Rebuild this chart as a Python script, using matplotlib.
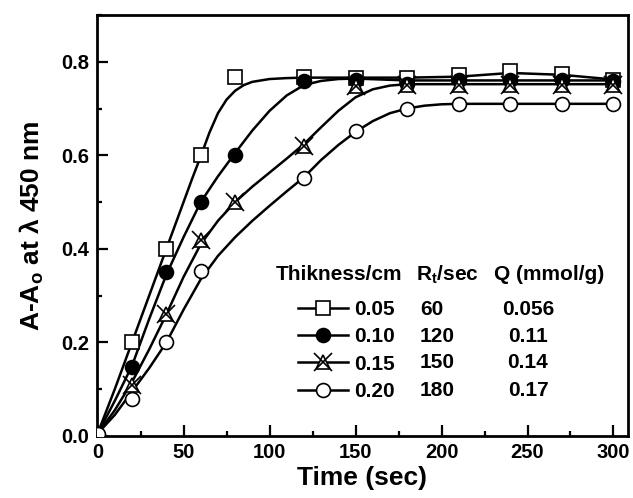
import matplotlib
matplotlib.use('Agg')
import matplotlib.pyplot as plt
from matplotlib.lines import Line2D
from matplotlib.legend_handler import HandlerTuple
from matplotlib.ticker import MultipleLocator, FormatStrFormatter

plt.rcParams['font.family'] = ['Liberation Sans', 'DejaVu Sans']
plt.rcParams['font.weight'] = 'bold'

# measured points (time in sec, absorbance change)
t_sq = [20, 40, 60, 80, 120, 150, 180, 210, 240, 270, 300]
a_sq = [0.20, 0.40, 0.60, 0.767, 0.768, 0.766, 0.766, 0.772, 0.781, 0.773, 0.761]
t_fc = [20, 40, 60, 80, 120, 150, 180, 210, 240, 270, 300]
a_fc = [0.148, 0.35, 0.50, 0.601, 0.758, 0.761, 0.752, 0.760, 0.760, 0.760, 0.759]
t_st = [20, 40, 60, 80, 120, 150, 180, 210, 240, 270, 300]
a_st = [0.11, 0.26, 0.42, 0.50, 0.620, 0.748, 0.750, 0.750, 0.750, 0.750, 0.750]
t_oc = [0, 20, 40, 60, 120, 150, 180, 210, 240, 270, 300]
a_oc = [0.005, 0.08, 0.20, 0.352, 0.552, 0.651, 0.700, 0.710, 0.710, 0.710, 0.710]

# fitted curves
sq_ct = [0, 10, 20, 30, 40, 50, 55, 60, 65, 70, 75, 80, 85, 90, 100, 110, 120, 150, 180, 210,
         240, 270, 300]
sq_ca = [0.005, 0.10, 0.20, 0.30, 0.40, 0.50, 0.55, 0.598, 0.648, 0.69, 0.719, 0.738, 0.75,
         0.757, 0.763, 0.765, 0.766, 0.766, 0.766, 0.768, 0.776, 0.772, 0.762]
fc_ct = [0, 10, 20, 30, 40, 50, 60, 70, 80, 90, 100, 110, 120, 130, 140, 150, 180, 210, 240, 270, 300]
fc_ca = [0.005, 0.075, 0.15, 0.25, 0.345, 0.425, 0.50, 0.555, 0.605, 0.653, 0.695, 0.728, 0.75,
         0.759, 0.763, 0.764, 0.760, 0.760, 0.760, 0.760, 0.760]
st_ct = [0, 10, 20, 30, 40, 50, 60, 70, 80, 90, 100, 110, 120, 130, 140, 150, 160, 170, 180,
         210, 240, 270, 300]
st_ca = [0.005, 0.055, 0.115, 0.185, 0.26, 0.34, 0.41, 0.46, 0.50, 0.533, 0.563, 0.593, 0.624,
         0.66, 0.695, 0.724, 0.741, 0.749, 0.752, 0.752, 0.752, 0.752, 0.752]
oc_ct = [0, 10, 20, 30, 40, 50, 60, 70, 80, 90, 100, 110, 120, 130, 140, 150, 160, 170, 180,
         190, 200, 210, 240, 270, 300]
oc_ca = [0.005, 0.045, 0.095, 0.145, 0.20, 0.27, 0.335, 0.385, 0.425, 0.46, 0.492, 0.523, 0.553,
         0.59, 0.622, 0.65, 0.673, 0.69, 0.70, 0.706, 0.709, 0.71, 0.71, 0.71, 0.71]

thickness = ['0.05', '0.10', '0.15', '0.20']
rt_sec = ['60', '120', '150', '180']
q_mmol = ['0.056', '0.11', '0.14', '0.17']

fig = plt.figure(figsize=(6.33, 4.98), dpi=100)
ax = fig.add_axes([0.1525, 0.1245, 0.8395, 0.8455])

lw = 1.8
ms = 9.5
mew = 1.2
for ct, ca in [(sq_ct, sq_ca), (fc_ct, fc_ca), (st_ct, st_ca), (oc_ct, oc_ca)]:
    ax.plot(ct, ca, color='black', lw=lw, zorder=2, solid_joinstyle='round')

ax.plot(t_sq, a_sq, ls='none', marker='s', ms=ms, mfc='white', mec='black', mew=mew, zorder=3)
ax.plot(t_fc, a_fc, ls='none', marker='o', ms=ms + 0.5, mfc='black', mec='black', mew=mew, zorder=3)
ax.plot(t_st, a_st, ls='none', marker='^', ms=ms, mfc='white', mec='black', mew=mew, zorder=3)
ax.plot(t_st, a_st, ls='none', marker='x', ms=ms + 3, mec='black', mew=mew, zorder=4)
ax.plot(t_oc, a_oc, ls='none', marker='o', ms=ms + 0.5, mfc='white', mec='black', mew=mew, zorder=3)

ax.set_xlim(-0.6, 308.4)
ax.set_ylim(0, 0.9)
ax.xaxis.set_major_locator(MultipleLocator(50))
ax.xaxis.set_minor_locator(MultipleLocator(25))
ax.yaxis.set_major_locator(MultipleLocator(0.2))
ax.yaxis.set_minor_locator(MultipleLocator(0.1))
ax.yaxis.set_major_formatter(FormatStrFormatter('%.1f'))
ax.tick_params(which='both', direction='in', top=False, right=False, width=1.6,
               labelsize=14.5)
ax.tick_params(which='major', length=8, pad=5)
ax.tick_params(which='minor', length=3.5)
for s in ax.spines.values():
    s.set_linewidth(2.0)

ax.set_xlabel('Time (sec)', fontsize=19, fontweight='bold', labelpad=3)
ax.set_ylabel(r'A-A$_\mathregular{o}$ at λ 450 nm', fontsize=19, fontweight='bold', labelpad=11)

# legend: line samples + thickness column
h_sq = Line2D([], [], color='black', lw=lw, marker='s', ms=ms, mfc='white', mec='black', mew=mew)
h_fc = Line2D([], [], color='black', lw=lw, marker='o', ms=ms + 0.5, mfc='black', mec='black', mew=mew)
h_st1 = Line2D([], [], color='black', lw=lw, marker='^', ms=ms, mfc='white', mec='black', mew=mew)
h_st2 = Line2D([], [], ls='none', marker='x', ms=ms + 3, mec='black', mew=mew)
h_oc = Line2D([], [], color='black', lw=lw, marker='o', ms=ms + 0.5, mfc='white', mec='black', mew=mew)
leg = ax.legend([h_sq, h_fc, (h_st1, h_st2), h_oc], thickness,
                handler_map={tuple: HandlerTuple(ndivide=1)},
                loc='upper left', bbox_to_anchor=(298 / 633, 1 - 300 / 498),
                bbox_transform=fig.transFigure, frameon=False, numpoints=1,
                handlelength=2.4, handletextpad=0.3, labelspacing=0.4,
                borderpad=0, borderaxespad=0, prop={'size': 15, 'weight': 'bold'})

fig.text(276 / 633, 1 - 275 / 498, 'Thikness/cm', fontsize=15, fontweight='bold', va='center', ha='left')
fig.text(416 / 633, 1 - 275 / 498, r'R$_\mathregular{t}$/sec', fontsize=15, fontweight='bold', va='center', ha='left')
fig.text(494 / 633, 1 - 275 / 498, 'Q (mmol/g)', fontsize=15, fontweight='bold', va='center', ha='left')
row_y = [309, 336, 363, 390]
for y, rt, q in zip(row_y, rt_sec, q_mmol):
    fig.text(420 / 633, 1 - y / 498, rt, fontsize=15, fontweight='bold', va='center', ha='left')
    fig.text(528 / 633, 1 - y / 498, q, fontsize=15, fontweight='bold', va='center', ha='center')

fig.savefig('out.png', dpi=100)
